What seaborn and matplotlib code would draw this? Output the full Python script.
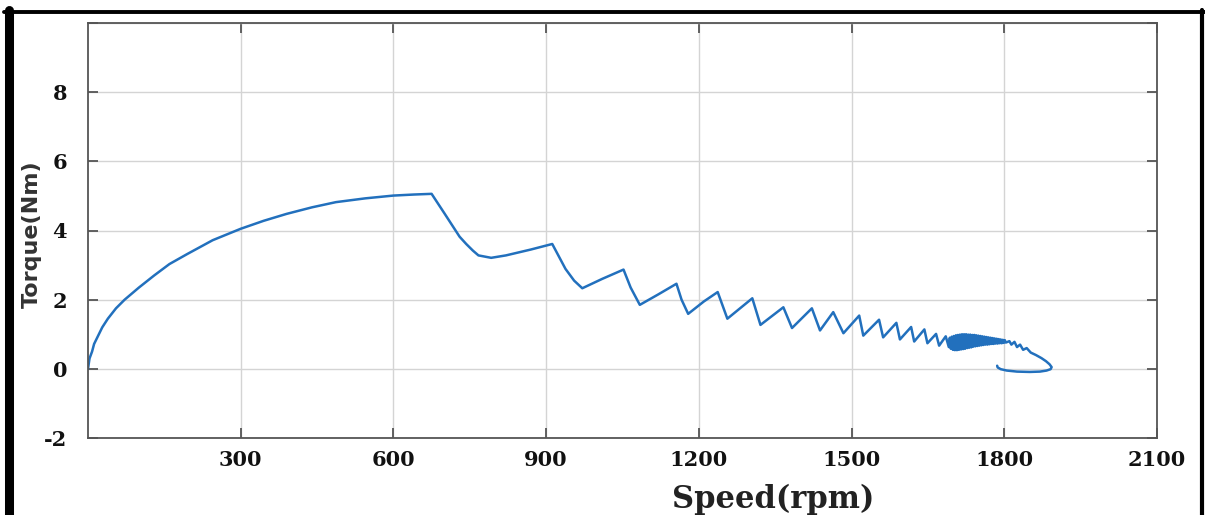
import numpy as np
import pandas as pd
import seaborn as sns
import matplotlib
matplotlib.use("Agg")
import matplotlib.pyplot as plt
from matplotlib.lines import Line2D

# ---- data ----
speed_rise = [0, 3, 8, 12, 20, 28, 39, 55, 72, 100, 130, 160, 195, 245, 300, 345, 390,
              440, 487, 545, 600, 640, 675]
torque_rise = [0.0, 0.3, 0.5, 0.72, 0.96, 1.2, 1.45, 1.75, 2.0, 2.35, 2.7, 3.03, 3.32,
               3.72, 4.05, 4.28, 4.48, 4.67, 4.82, 4.93, 5.01, 5.04, 5.06]

speed_saw = [700, 730, 743, 756, 767, 792, 821, 870, 912, 925, 938, 955, 971, 1010, 1052,
             1066, 1084, 1120, 1156, 1166, 1179, 1210, 1237, 1256, 1305, 1321, 1366,
             1383, 1422, 1438, 1464, 1484, 1515, 1523, 1554, 1562, 1588, 1595, 1617,
             1623, 1643, 1649, 1666, 1672, 1685, 1691]
torque_saw = [4.5, 3.82, 3.61, 3.42, 3.28, 3.21, 3.28, 3.45, 3.61, 3.25, 2.89, 2.55, 2.33,
              2.6, 2.87, 2.35, 1.85, 2.15, 2.46, 2.0, 1.59, 1.95, 2.22, 1.45, 2.04, 1.27,
              1.78, 1.18, 1.75, 1.11, 1.64, 1.03, 1.54, 0.96, 1.42, 0.91, 1.33, 0.85,
              1.21, 0.79, 1.14, 0.74, 1.01, 0.67, 0.94, 0.63]

speed_blob = [1693, 1695, 1697, 1699, 1701, 1703, 1705, 1707, 1709, 1711, 1713, 1715,
              1717, 1719, 1721, 1723, 1725, 1727, 1729, 1731, 1733, 1735, 1737, 1739,
              1741, 1743, 1745, 1747, 1749, 1751, 1753, 1755, 1757, 1759, 1761, 1763,
              1765, 1767, 1769, 1771, 1773, 1775, 1777, 1779, 1781, 1783, 1785, 1787,
              1789, 1791, 1793, 1795, 1797, 1799, 1801, 1803]
torque_blob = [0.90, 0.58, 0.93, 0.55, 0.95, 0.54, 0.97, 0.54, 0.98, 0.55, 0.99, 0.56,
               1.00, 0.57, 1.00, 0.58, 1.00, 0.60, 0.99, 0.61, 0.99, 0.62, 0.98, 0.64,
               0.98, 0.65, 0.97, 0.66, 0.96, 0.67, 0.95, 0.68, 0.94, 0.69, 0.93, 0.70,
               0.92, 0.70, 0.91, 0.71, 0.90, 0.72, 0.89, 0.72, 0.88, 0.73, 0.87, 0.73,
               0.86, 0.74, 0.85, 0.74, 0.84, 0.75, 0.83, 0.76]

speed_tail = [1810, 1814, 1820, 1825, 1831, 1837, 1844, 1852, 1862, 1873, 1882, 1889, 1893,
              1891, 1883, 1870, 1850, 1825, 1805, 1793, 1787, 1786]
torque_tail = [0.80, 0.70, 0.78, 0.63, 0.70, 0.55, 0.60, 0.47, 0.40, 0.31, 0.22, 0.13, 0.05,
               -0.01, -0.05, -0.08, -0.09, -0.08, -0.05, -0.01, 0.04, 0.09]

x_ticks = [300, 600, 900, 1200, 1500, 1800, 2100]
y_ticks = [-2, 0, 2, 4, 6, 8]

speed = speed_rise + speed_saw + speed_blob + speed_tail
torque = torque_rise + torque_saw + torque_blob + torque_tail
df = pd.DataFrame({"Speed": speed, "Torque": torque})

# ---- figure ----
sns.set_theme(style="ticks")
W, H = 1205, 515
fig = plt.figure(figsize=(W / 100, H / 100), dpi=100)
ax = fig.add_axes([88 / W, 1 - 438 / H, (1157 - 88) / W, (438 - 23) / H])

sns.lineplot(data=df, x="Speed", y="Torque", sort=False, estimator=None,
             color="#2270bd", linewidth=1.8, ax=ax)

ax.set_xlim(0, 2100)
ax.set_ylim(-2, 10)
ax.set_xticks(x_ticks)
ax.set_yticks(y_ticks + [10])
ax.set_xticklabels([str(t) for t in x_ticks])
ax.set_yticklabels([str(t) for t in y_ticks] + [""])
ax.grid(True, color="#d4d4d4", linewidth=1.0)
ax.set_axisbelow(True)
for s in ax.spines.values():
    s.set_color("#555555")
    s.set_linewidth(1.3)
ax.tick_params(direction="in", length=7, width=1.3, color="#555555",
               top=True, right=True)
ax.tick_params(axis="x", pad=9)
ax.tick_params(axis="y", pad=15)
for lab in ax.get_xticklabels() + ax.get_yticklabels():
    lab.set_fontfamily("DejaVu Serif")
    lab.set_fontweight("bold")
    lab.set_fontsize(15)
    lab.set_color("#111111")
ax.set_xlabel("")
ax.set_ylabel("")

fig.text(773 / W, 7 / H, "Speed(rpm)", ha="center", va="baseline",
         fontfamily="DejaVu Serif", fontweight="bold", fontsize=22, color="#222222")
fig.text(32 / W, 1 - 234 / H, "Torque(Nm)", ha="center", va="center", rotation=90,
         fontfamily="DejaVu Sans", fontweight="bold", fontsize=16, color="#333333")

# outer black frame
fig.add_artist(Line2D([4 / W, 1], [1 - 11.5 / H, 1 - 11.5 / H], transform=fig.transFigure,
                      color="black", linewidth=2.8))
fig.add_artist(Line2D([8.5 / W, 8.5 / W], [0, 1 - 10 / H], transform=fig.transFigure,
                      color="black", linewidth=6.5))
fig.add_artist(Line2D([1202 / W, 1202 / W], [0, 1 - 10 / H], transform=fig.transFigure,
                      color="black", linewidth=3.0))

fig.savefig("out.png", dpi=100, facecolor="white")
